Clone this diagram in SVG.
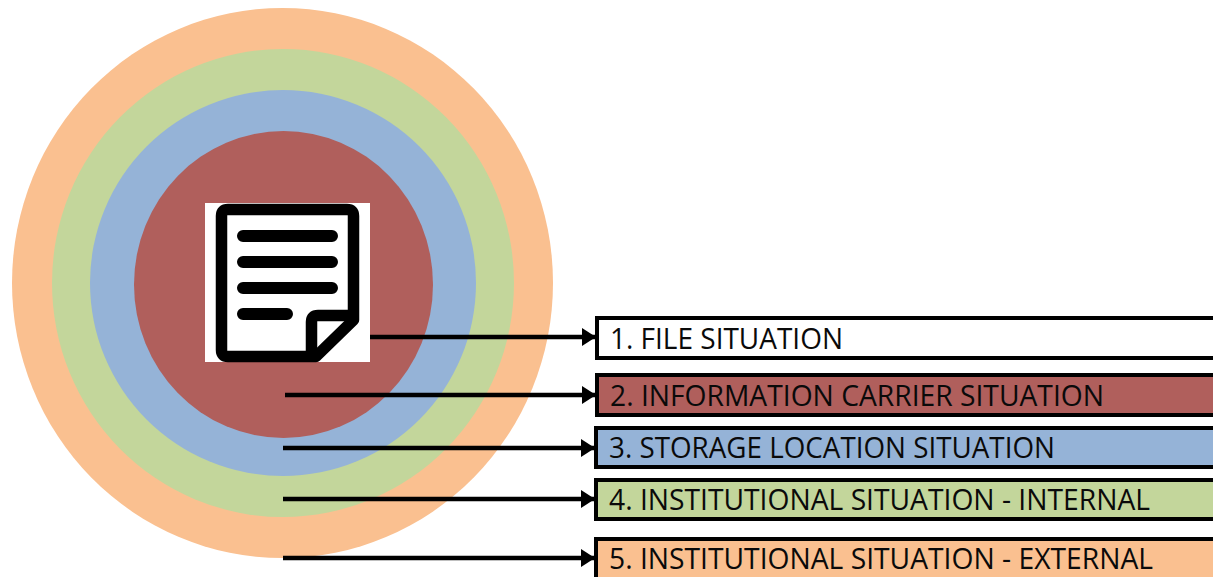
<svg xmlns="http://www.w3.org/2000/svg" width="1213" height="577" viewBox="0 0 1213 577">
<style>
.box{stroke:#000;stroke-width:4}
.lbl{font-family:"Open Sans","Noto Sans",sans-serif;font-size:29px;fill:#0a0a0a}
.cn{fill:none;stroke:#000;stroke-width:4.6}
.doc{fill:none;stroke:#000;stroke-width:11.5;stroke-linejoin:round;stroke-linecap:round}
.ln{stroke:#000;stroke-width:12;stroke-linecap:round}
</style>
<defs>
<marker id="ah" markerUnits="userSpaceOnUse" markerWidth="14" markerHeight="18" refX="14" refY="9" orient="auto"><path d="M0 0L14 9L0 18Z" fill="#000"/></marker>
</defs>
<rect width="1213" height="577" fill="#fff"/>
<g id="rings">
<ellipse cx="282.5" cy="283" rx="270.5" ry="275" fill="#fac090"/>
<ellipse cx="283" cy="283" rx="231" ry="234" fill="#c3d69b"/>
<ellipse cx="283" cy="283" rx="193" ry="193" fill="#95b3d7"/>
<ellipse cx="283.5" cy="284.5" rx="149.5" ry="153.5" fill="#b05f5c"/>
</g>
<g id="file-icon">
<rect x="205" y="203" width="165" height="159" fill="#fff"/>
<path class="doc" d="M228 209.5H347Q353.5 209.5 353.5 216V320L316 356.5H228Q221.5 356.5 221.5 350V216Q221.5 209.5 228 209.5Z"/>
<path class="doc" d="M352 315.5H318Q311.5 315.5 311.5 322V355"/>
<path class="ln" d="M243 236H332M243 262H332M243 288H332M243 314H287"/>
</g>
<g id="node-1"><rect class="box" x="597" y="318" width="630" height="40" fill="#fff"/><text class="lbl" x="610" y="349" textLength="233" lengthAdjust="spacingAndGlyphs">1. FILE SITUATION</text></g>
<g id="node-2"><rect class="box" x="597" y="375" width="630" height="40" fill="#b05f5c"/><text class="lbl" x="610" y="406" textLength="494" lengthAdjust="spacingAndGlyphs">2. INFORMATION CARRIER SITUATION</text></g>
<g id="node-3"><rect class="box" x="596" y="428" width="630" height="39" fill="#95b3d7"/><text class="lbl" x="609" y="458" textLength="446" lengthAdjust="spacingAndGlyphs">3. STORAGE LOCATION SITUATION</text></g>
<g id="node-4"><rect class="box" x="596" y="480" width="630" height="39" fill="#c3d69b"/><text class="lbl" x="609" y="510" textLength="541" lengthAdjust="spacingAndGlyphs">4. INSTITUTIONAL SITUATION - INTERNAL</text></g>
<g id="node-5"><rect class="box" x="596" y="539" width="630" height="50" fill="#fac090"/><text class="lbl" x="609" y="569" textLength="544" lengthAdjust="spacingAndGlyphs">5. INSTITUTIONAL SITUATION - EXTERNAL</text></g>
<g id="connectors">
<path class="cn" d="M370 337H596" marker-end="url(#ah)"/>
<path class="cn" d="M285 395H596" marker-end="url(#ah)"/>
<path class="cn" d="M283 448H595" marker-end="url(#ah)"/>
<path class="cn" d="M283 499H595" marker-end="url(#ah)"/>
<path class="cn" d="M283 558H595" marker-end="url(#ah)"/>
</g>
</svg>
